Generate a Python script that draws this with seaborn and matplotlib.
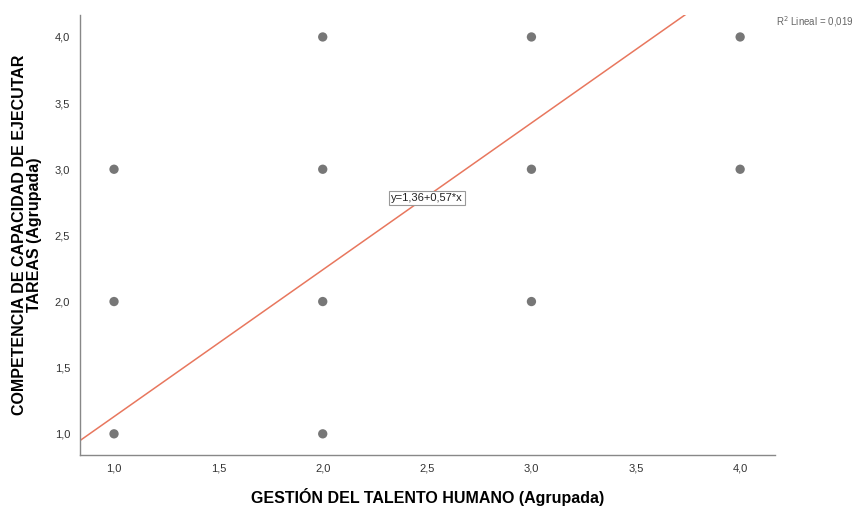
import matplotlib
matplotlib.use('Agg')
import matplotlib.pyplot as plt
import seaborn as sns
import numpy as np
import pandas as pd

# grouped scores (overlapping cases drawn once)
gestion = [1, 1, 1, 2, 2, 2, 2, 3, 3, 3, 4, 4]
competencia = [1, 2, 3, 1, 2, 3, 4, 2, 3, 4, 3, 4]

# fit line as drawn in the picture
line_intercept = 0.02
line_slope = 1.11
equation_label = 'y=1,36+0,57*x'
r2_label = 'R$^2$ Lineal = 0,019'

ticks = [1.0, 1.5, 2.0, 2.5, 3.0, 3.5, 4.0]
tick_labels = ['1,0', '1,5', '2,0', '2,5', '3,0', '3,5', '4,0']

sns.set_style('white')
plt.rcParams['font.family'] = ['Liberation Sans', 'DejaVu Sans']

df = pd.DataFrame({'gestion': gestion, 'competencia': competencia})

fig = plt.figure(figsize=(8.61, 5.07), dpi=100)
ax = fig.add_axes([80 / 861, 1 - 455 / 507, 695 / 861, 440 / 507])

xlim = (0.837, 4.167)
ylim = (0.84, 4.166)

sns.scatterplot(data=df, x='gestion', y='competencia', color='#777777', s=45,
                edgecolor='none', ax=ax, zorder=3)

xs = np.linspace(xlim[0], xlim[1], 50)
sns.lineplot(x=xs, y=line_intercept + line_slope * xs, color='#E8775E', linewidth=1.1, ax=ax)

ax.set_xlim(xlim)
ax.set_ylim(ylim)
ax.set_xticks(ticks)
ax.set_xticklabels(tick_labels)
ax.set_yticks(ticks)
ax.set_yticklabels(tick_labels)
ax.tick_params(axis='both', length=0, labelsize=8, colors='#333333')
ax.tick_params(axis='x', pad=6)
ax.tick_params(axis='y', pad=7)

for side in ['top', 'right']:
    ax.spines[side].set_visible(False)
for side in ['left', 'bottom']:
    ax.spines[side].set_color('#888888')
    ax.spines[side].set_linewidth(1.0)

ax.set_xlabel('GESTIÓN DEL TALENTO HUMANO (Agrupada)', fontsize=11.5, fontweight='bold',
              color='black', va='center')
ax.xaxis.set_label_coords(0.5, -42 / 440)
ax.set_ylabel('COMPETENCIA DE CAPACIDAD DE EJECUTAR\nTAREAS (Agrupada)', fontsize=11.5,
              fontweight='bold', color='black', linespacing=0.95, va='center')
ax.yaxis.set_label_coords(-53 / 695, 0.5)

ax.text(2.498, 2.783, equation_label, fontsize=8, ha='center', va='center', color='#222222',
        bbox=dict(boxstyle='square,pad=0.2', facecolor='white', edgecolor='#999999', linewidth=0.8),
        zorder=4)

fig.text(776 / 861, 1 - 22 / 507, r2_label, fontsize=7, color='#666666', ha='left', va='center')

fig.savefig('out.png', dpi=100)
